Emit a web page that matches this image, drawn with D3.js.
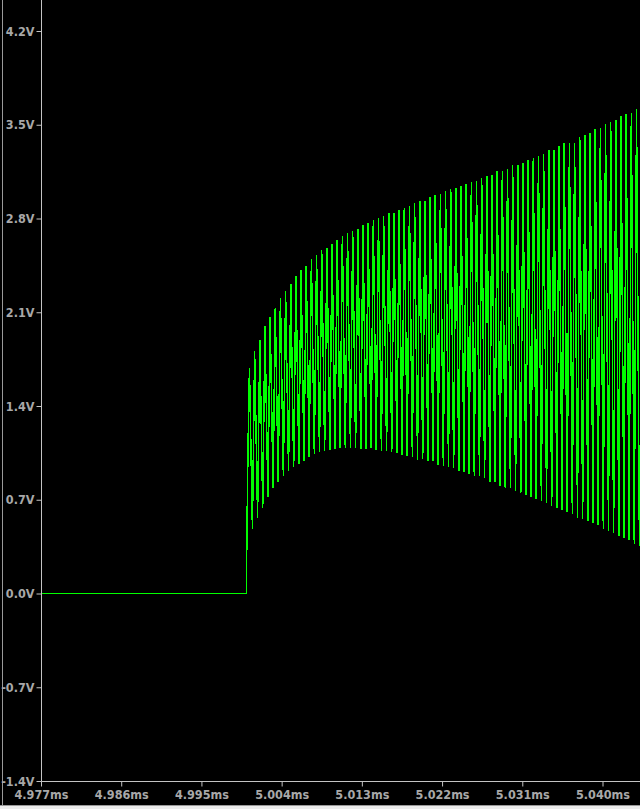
<!DOCTYPE html>
<html>
<head>
<meta charset="utf-8">
<script src="https://cdn.jsdelivr.net/npm/d3@7"></script>
<style>
  html, body { margin: 0; padding: 0; background: #000; }
  svg { display: block; }
  .axis text { font-family: "DejaVu Sans Condensed", "DejaVu Sans", sans-serif; font-stretch: condensed; font-weight: bold; font-size: 12.5px; fill: #a8a8a8; }
  .axis line { stroke: #c4c4c4; }
</style>
</head>
<body>
<div id="chart"></div>
<script>
// Transient trace: flat 0 V, then a fast oscillation with a rising envelope

var width = 640, height = 809;

// start of the trace (flat part and the first rising edge)
var leadTimes = [4.977, 5.00008, 5.00008, 5.00017, 5.00028];
var leadVolts = [0, 0, 0.284, 0.81, 1.31];

// top of each cycle
var peakTimes = [
  5.000390, 5.000969, 5.001548, 5.002127, 5.002706, 5.003285, 5.003864, 5.004443, 5.005022, 5.005601,
  5.006180, 5.006759, 5.007338, 5.007917, 5.008496, 5.009075, 5.009654, 5.010233, 5.010812, 5.011391,
  5.011970, 5.012549, 5.013128, 5.013707, 5.014286, 5.014865, 5.015444, 5.016023, 5.016602, 5.017181,
  5.017760, 5.018339, 5.018918, 5.019497, 5.020076, 5.020655, 5.021234, 5.021813, 5.022392, 5.022971,
  5.023550, 5.024129, 5.024708, 5.025287, 5.025866, 5.026445, 5.027024, 5.027603, 5.028182, 5.028761,
  5.029340, 5.029919, 5.030498, 5.031077, 5.031656, 5.032235, 5.032814, 5.033393, 5.033972, 5.034551,
  5.035130, 5.035709, 5.036288, 5.036867, 5.037446, 5.038025, 5.038604, 5.039183, 5.039762, 5.040341,
  5.040920, 5.041499, 5.042078, 5.042657, 5.043236, 5.043815
];
var peakVolts = [
  1.680, 1.807, 1.889, 1.994, 2.068, 2.128, 2.205, 2.255, 2.312, 2.367,
  2.412, 2.442, 2.494, 2.524, 2.561, 2.583, 2.613, 2.641, 2.666, 2.690,
  2.710, 2.725, 2.750, 2.770, 2.785, 2.805, 2.822, 2.840, 2.840, 2.867,
  2.882, 2.897, 2.914, 2.927, 2.934, 2.957, 2.972, 2.981, 3.002, 3.017,
  3.024, 3.039, 3.061, 3.069, 3.079, 3.106, 3.114, 3.128, 3.151, 3.151,
  3.173, 3.196, 3.203, 3.218, 3.240, 3.255, 3.263, 3.285, 3.308, 3.315,
  3.338, 3.360, 3.367, 3.367, 3.405, 3.427, 3.442, 3.465, 3.479, 3.502,
  3.517, 3.539, 3.562, 3.577, 3.591, 3.614
];

// bottom of each cycle
var troughTimes = [
  5.000720, 5.001299, 5.001878, 5.002457, 5.003036, 5.003615, 5.004194, 5.004773, 5.005352, 5.005931,
  5.006510, 5.007089, 5.007668, 5.008247, 5.008826, 5.009405, 5.009984, 5.010563, 5.011142, 5.011721,
  5.012300, 5.012879, 5.013458, 5.014037, 5.014616, 5.015195, 5.015774, 5.016353, 5.016932, 5.017511,
  5.018090, 5.018669, 5.019248, 5.019827, 5.020406, 5.020985, 5.021564, 5.022143, 5.022722, 5.023301,
  5.023880, 5.024459, 5.025038, 5.025617, 5.026196, 5.026775, 5.027354, 5.027933, 5.028512, 5.029091,
  5.029670, 5.030249, 5.030828, 5.031407, 5.031986, 5.032565, 5.033144, 5.033723, 5.034302, 5.034881,
  5.035460, 5.036039, 5.036618, 5.037197, 5.037776, 5.038355, 5.038934, 5.039513, 5.040092, 5.040671,
  5.041250, 5.041829, 5.042408, 5.042987, 5.043566, 5.044145
];
var troughVolts = [
  0.485, 0.567, 0.642, 0.717, 0.789, 0.831, 0.876, 0.913, 0.943, 0.965,
  0.986, 1.018, 1.043, 1.055, 1.062, 1.075, 1.080, 1.085, 1.085, 1.085,
  1.088, 1.080, 1.080, 1.085, 1.068, 1.062, 1.062, 1.060, 1.048, 1.036,
  1.027, 1.018, 0.998, 1.001, 0.988, 0.986, 0.958, 0.953, 0.948, 0.939,
  0.913, 0.906, 0.896, 0.876, 0.874, 0.861, 0.831, 0.829, 0.806, 0.791,
  0.791, 0.769, 0.747, 0.739, 0.724, 0.702, 0.687, 0.679, 0.652, 0.635,
  0.627, 0.612, 0.590, 0.567, 0.560, 0.545, 0.523, 0.508, 0.485, 0.470,
  0.455, 0.433, 0.418, 0.396, 0.373, 0.351
];

// axis ticks
var xTicks = [4.977, 4.986, 4.995, 5.004, 5.013, 5.022, 5.031, 5.040];
var yTicks = [4.2, 3.5, 2.8, 2.1, 1.4, 0.7, 0.0, -0.7, -1.4];

// join everything into one trace
var trace = [];
leadTimes.forEach(function(t, i) { trace.push({ t: t, v: leadVolts[i] }); });
peakTimes.forEach(function(t, i) {
    trace.push({ t: t, v: peakVolts[i] });
    trace.push({ t: troughTimes[i], v: troughVolts[i] });
});

var x = d3.scaleLinear().domain([4.977, 5.040]).range([41, 602.5]);
var y = d3.scaleLinear().domain([-1.4, 4.2]).range([781, 31]);

var svg = d3.select("#chart").append("svg")
    .attr("width", width)
    .attr("height", height);

// frame
svg.append("rect").attr("width", width).attr("height", height).attr("fill", "#000");
svg.append("rect").attr("x", 0).attr("y", 805).attr("width", width).attr("height", 4).attr("fill", "#ececec");
svg.append("line").attr("x1", 0).attr("x2", width).attr("y1", 805.5).attr("y2", 805.5)
    .attr("stroke", "#9a9a9a");
svg.append("line").attr("x1", 2.5).attr("x2", 2.5).attr("y1", 0).attr("y2", 805)
    .attr("stroke", "#9a9a9a");

svg.append("clipPath").attr("id", "plot")
    .append("rect").attr("x", 41).attr("y", 0).attr("width", width - 41).attr("height", 781);

// waveform
var line = d3.line()
    .x(function(d) { return x(d.t); })
    .y(function(d) { return y(d.v); });

svg.append("path")
    .datum(trace)
    .attr("clip-path", "url(#plot)")
    .attr("d", line)
    .attr("fill", "none")
    .attr("stroke", "#00ff00")
    .attr("stroke-width", 1.5)
    .attr("stroke-linejoin", "bevel")
    .attr("shape-rendering", "crispEdges");

// axes
var yAxis = svg.append("g")
    .attr("class", "axis")
    .attr("transform", "translate(41.5,0)")
    .call(d3.axisLeft(y).tickValues(yTicks).tickSize(5).tickSizeOuter(0).tickPadding(2)
        .tickFormat(function(d) { return d.toFixed(1) + "V"; }));
yAxis.select(".domain").remove();

var xAxis = svg.append("g")
    .attr("class", "axis")
    .attr("transform", "translate(0,781.5)")
    .call(d3.axisBottom(x).tickValues(xTicks).tickSize(5).tickSizeOuter(0).tickPadding(4)
        .tickFormat(function(d) { return d.toFixed(3) + "ms"; }));
xAxis.select(".domain").remove();

svg.append("line").attr("x1", 41.5).attr("x2", 41.5).attr("y1", 0).attr("y2", 781.5)
    .attr("stroke", "#c4c4c4");
svg.append("line").attr("x1", 41.5).attr("x2", width).attr("y1", 781.5).attr("y2", 781.5)
    .attr("stroke", "#c4c4c4");
</script>
</body>
</html>
